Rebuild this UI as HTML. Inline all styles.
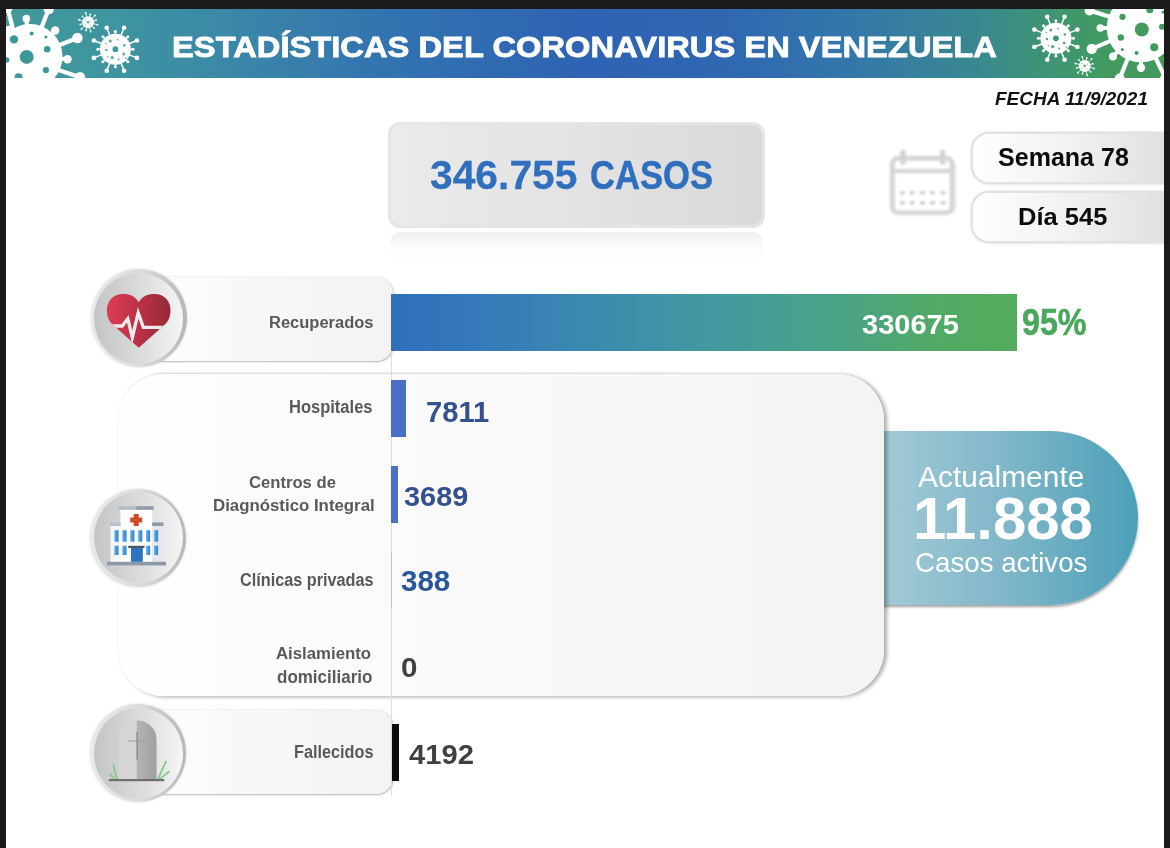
<!DOCTYPE html>
<html lang="es">
<head>
<meta charset="utf-8">
<title>Estadísticas del Coronavirus en Venezuela</title>
<style>
html,body{margin:0;padding:0;}
body{width:1170px;height:848px;overflow:hidden;background:#fff;font-family:"Liberation Sans",sans-serif;position:relative;}
.abs{position:absolute;}
.t{position:absolute;white-space:nowrap;line-height:1;transform-origin:0 0;font-weight:bold;}
.frame{position:absolute;background:#1b191c;z-index:50;}
#band{left:6px;top:9px;width:1158px;height:69px;background:linear-gradient(90deg,#41999a 0%,#3e94a0 10%,#3a86a8 20%,#3273b0 33%,#2e63b3 50%,#2f67b1 62%,#3377aa 73%,#39888f 84%,#3f9670 91%,#429b5d 96%,#429b5d 100%);}
#hsvg{left:0;top:0;z-index:2;}
#casebox{left:388px;top:122px;width:377px;height:106px;border-radius:12px;background:#e5e5e6;}
#caseinner{left:391px;top:125px;width:371px;height:100px;border-radius:10px;background:linear-gradient(90deg,#ebebec 0%,#e3e3e4 50%,#d9d9da 100%);}
#refl{left:390px;top:232px;width:373px;height:30px;border-radius:10px 10px 0 0;background:linear-gradient(180deg,rgba(225,225,226,.55) 0%,rgba(240,240,240,.25) 45%,rgba(255,255,255,0) 100%);}
.pill{position:absolute;left:972.8px;width:200px;height:47.5px;border-radius:16px 0 0 16px;background:linear-gradient(90deg,#fefefe 0%,#f4f4f4 40%,#dfdfdf 100%);box-shadow:0 0 0 2.5px #e2e2e2, 0 1px 4px 1px rgba(0,0,0,.10);}
.lbl{position:absolute;left:135px;width:258px;height:84px;border-radius:0 17px 17px 0;background:linear-gradient(90deg,#ffffff 0%,#f8f8f8 40%,#f3f3f3 100%);box-shadow:0.5px 1px 2px rgba(0,0,0,.26),0 0 1.5px rgba(0,0,0,.22);}
.circ{position:absolute;width:96px;height:98px;border-radius:50%;background:linear-gradient(90deg,#e9e9e9 0%,#dddddd 50%,#b6b6b8 100%);box-shadow:0 0 3px rgba(0,0,0,.14);}
.circ i{position:absolute;left:3.5px;top:3.5px;width:89px;height:91px;border-radius:50%;background:linear-gradient(90deg,#c3c4c6 0%,#dadadb 50%,#f5f5f5 100%);}
#panel{left:118px;top:374px;width:766px;height:322px;border-radius:46px;background:linear-gradient(90deg,#fefefe 0%,#fbfbfb 30%,#f4f4f5 100%);box-shadow:3px 1px 4px rgba(0,0,0,.33),0 -0.5px 2px rgba(0,0,0,.07);}
#axis{left:391px;top:351px;width:1px;height:445px;background:#dcdcdc;}
#active{left:880px;top:431px;width:258px;height:174px;border-radius:0 87px 87px 0;background:linear-gradient(90deg,#a3cad7 0%,#9cc6d4 10%,#7fb6c8 50%,#4ba0b9 100%);box-shadow:0 2px 3px rgba(0,0,0,.38);}
.bar{position:absolute;}
.lab{color:#595959;}
.icon{position:absolute;left:0;top:0;}
</style>
</head>
<body>
<div id="band" class="abs"></div>
<svg id="hsvg" class="abs" width="1170" height="848" viewBox="0 0 1170 848">
<defs><clipPath id="bc"><rect x="6" y="9" width="1158" height="69"/></clipPath></defs>
<g clip-path="url(#bc)">
<circle cx="30" cy="56.5" r="32.5" fill="#fff"/>
<line x1="13.40" y1="31.00" x2="7.60" y2="8.00" stroke="#fff" stroke-width="4.2"/>
<circle cx="7.60" cy="8.00" r="5.0" fill="#fff"/>
<line x1="41.23" y1="28.14" x2="48.77" y2="9.08" stroke="#fff" stroke-width="4.2"/>
<circle cx="48.77" cy="9.08" r="5.2" fill="#fff"/>
<line x1="58.42" y1="45.42" x2="77.42" y2="38.01" stroke="#fff" stroke-width="4.2"/>
<circle cx="77.42" cy="38.01" r="5.3" fill="#fff"/>
<line x1="57.00" y1="69.50" x2="80.00" y2="77.30" stroke="#fff" stroke-width="4.2"/>
<circle cx="80.00" cy="77.30" r="5.2" fill="#fff"/>
<line x1="27.08" y1="26.14" x2="26.36" y2="18.67" stroke="#fff" stroke-width="4"/>
<circle cx="26.36" cy="18.67" r="3.8" fill="#fff"/>
<line x1="51.23" y1="34.60" x2="55.19" y2="30.50" stroke="#fff" stroke-width="4"/>
<circle cx="55.19" cy="30.50" r="4.2" fill="#fff"/>
<line x1="60.42" y1="58.68" x2="67.50" y2="59.19" stroke="#fff" stroke-width="4"/>
<circle cx="67.50" cy="59.19" r="4.2" fill="#fff"/>
<circle cx="14" cy="39.4" r="4.2" fill="#3f9898"/>
<circle cx="31.6" cy="33.5" r="2" fill="#3f9898"/>
<circle cx="45.9" cy="37.1" r="1.5" fill="#3f9898"/>
<circle cx="47.2" cy="49.2" r="3.3" fill="#3f9898"/>
<circle cx="26.7" cy="56.9" r="7" fill="#3f9898"/>
<circle cx="45.9" cy="70.1" r="3.1" fill="#3f9898"/>
<circle cx="18.6" cy="77.2" r="4" fill="#3f9898"/>
<circle cx="6.8" cy="59.9" r="2.6" fill="#3f9898"/>
<path d="M6 26.5 L9.5 25.5 L11.5 28.5 L9.4 35 L6 38 Z" fill="#fff"/>
<circle cx="88.2" cy="22.3" r="6" fill="#fff"/>
<line x1="93.03" y1="23.59" x2="97.47" y2="24.78" stroke="#fff" stroke-width="0.9" stroke-opacity=".9"/>
<circle cx="97.47" cy="24.78" r="1.0" fill="#fff" fill-opacity=".9"/>
<line x1="91.74" y1="25.84" x2="94.00" y2="28.10" stroke="#fff" stroke-width="0.9" stroke-opacity=".9"/>
<circle cx="94.00" cy="28.10" r="1.0" fill="#fff" fill-opacity=".9"/>
<line x1="89.49" y1="27.13" x2="90.68" y2="31.57" stroke="#fff" stroke-width="0.9" stroke-opacity=".9"/>
<circle cx="90.68" cy="31.57" r="1.0" fill="#fff" fill-opacity=".9"/>
<line x1="86.91" y1="27.13" x2="86.08" y2="30.22" stroke="#fff" stroke-width="0.9" stroke-opacity=".9"/>
<circle cx="86.08" cy="30.22" r="1.0" fill="#fff" fill-opacity=".9"/>
<line x1="84.66" y1="25.84" x2="81.41" y2="29.09" stroke="#fff" stroke-width="0.9" stroke-opacity=".9"/>
<circle cx="81.41" cy="29.09" r="1.0" fill="#fff" fill-opacity=".9"/>
<line x1="83.37" y1="23.59" x2="80.28" y2="24.42" stroke="#fff" stroke-width="0.9" stroke-opacity=".9"/>
<circle cx="80.28" cy="24.42" r="1.0" fill="#fff" fill-opacity=".9"/>
<line x1="83.37" y1="21.01" x2="78.93" y2="19.82" stroke="#fff" stroke-width="0.9" stroke-opacity=".9"/>
<circle cx="78.93" cy="19.82" r="1.0" fill="#fff" fill-opacity=".9"/>
<line x1="84.66" y1="18.76" x2="82.40" y2="16.50" stroke="#fff" stroke-width="0.9" stroke-opacity=".9"/>
<circle cx="82.40" cy="16.50" r="1.0" fill="#fff" fill-opacity=".9"/>
<line x1="86.91" y1="17.47" x2="85.72" y2="13.03" stroke="#fff" stroke-width="0.9" stroke-opacity=".9"/>
<circle cx="85.72" cy="13.03" r="1.0" fill="#fff" fill-opacity=".9"/>
<line x1="89.49" y1="17.47" x2="90.32" y2="14.38" stroke="#fff" stroke-width="0.9" stroke-opacity=".9"/>
<circle cx="90.32" cy="14.38" r="1.0" fill="#fff" fill-opacity=".9"/>
<line x1="91.74" y1="18.76" x2="94.99" y2="15.51" stroke="#fff" stroke-width="0.9" stroke-opacity=".9"/>
<circle cx="94.99" cy="15.51" r="1.0" fill="#fff" fill-opacity=".9"/>
<line x1="93.03" y1="21.01" x2="96.12" y2="20.18" stroke="#fff" stroke-width="0.9" stroke-opacity=".9"/>
<circle cx="96.12" cy="20.18" r="1.0" fill="#fff" fill-opacity=".9"/>
<circle cx="88.2" cy="22.3" r="1.3" fill="#3f9898" fill-opacity=".8"/>
<circle cx="85.60" cy="20.10" r=".6" fill="#3f9898" fill-opacity=".6"/>
<circle cx="91.00" cy="20.50" r=".6" fill="#3f9898" fill-opacity=".6"/>
<circle cx="90.20" cy="25.30" r=".6" fill="#3f9898" fill-opacity=".6"/>
<circle cx="85.60" cy="24.90" r=".6" fill="#3f9898" fill-opacity=".6"/>
<circle cx="115.4" cy="49.2" r="15.5" fill="#fff"/>
<line x1="128.84" y1="43.77" x2="136.91" y2="40.51" stroke="#fff" stroke-width="1.5"/>
<circle cx="136.91" cy="40.51" r="2.3" fill="#fff"/>
<line x1="128.84" y1="54.63" x2="136.91" y2="57.89" stroke="#fff" stroke-width="1.5"/>
<circle cx="136.91" cy="57.89" r="2.3" fill="#fff"/>
<line x1="120.83" y1="35.76" x2="124.09" y2="27.69" stroke="#fff" stroke-width="1.5"/>
<circle cx="124.09" cy="27.69" r="2.3" fill="#fff"/>
<line x1="120.83" y1="62.64" x2="124.09" y2="70.71" stroke="#fff" stroke-width="1.5"/>
<circle cx="124.09" cy="70.71" r="2.3" fill="#fff"/>
<line x1="109.97" y1="35.76" x2="106.71" y2="27.69" stroke="#fff" stroke-width="1.5"/>
<circle cx="106.71" cy="27.69" r="2.3" fill="#fff"/>
<line x1="109.97" y1="62.64" x2="106.71" y2="70.71" stroke="#fff" stroke-width="1.5"/>
<circle cx="106.71" cy="70.71" r="2.3" fill="#fff"/>
<line x1="101.96" y1="43.77" x2="93.89" y2="40.51" stroke="#fff" stroke-width="1.5"/>
<circle cx="93.89" cy="40.51" r="2.3" fill="#fff"/>
<line x1="101.96" y1="54.63" x2="93.89" y2="57.89" stroke="#fff" stroke-width="1.5"/>
<circle cx="93.89" cy="57.89" r="2.3" fill="#fff"/>
<line x1="129.90" y1="49.20" x2="133.00" y2="49.20" stroke="#fff" stroke-width="1.6"/>
<circle cx="133.00" cy="49.20" r="1.5" fill="#fff"/>
<line x1="125.65" y1="59.45" x2="127.85" y2="61.65" stroke="#fff" stroke-width="1.6"/>
<circle cx="127.85" cy="61.65" r="1.5" fill="#fff"/>
<line x1="115.40" y1="63.70" x2="115.40" y2="66.80" stroke="#fff" stroke-width="1.6"/>
<circle cx="115.40" cy="66.80" r="1.5" fill="#fff"/>
<line x1="105.15" y1="59.45" x2="102.95" y2="61.65" stroke="#fff" stroke-width="1.6"/>
<circle cx="102.95" cy="61.65" r="1.5" fill="#fff"/>
<line x1="100.90" y1="49.20" x2="97.80" y2="49.20" stroke="#fff" stroke-width="1.6"/>
<circle cx="97.80" cy="49.20" r="1.5" fill="#fff"/>
<line x1="105.15" y1="38.95" x2="102.95" y2="36.75" stroke="#fff" stroke-width="1.6"/>
<circle cx="102.95" cy="36.75" r="1.5" fill="#fff"/>
<line x1="115.40" y1="34.70" x2="115.40" y2="31.60" stroke="#fff" stroke-width="1.6"/>
<circle cx="115.40" cy="31.60" r="1.5" fill="#fff"/>
<line x1="125.65" y1="38.95" x2="127.85" y2="36.75" stroke="#fff" stroke-width="1.6"/>
<circle cx="127.85" cy="36.75" r="1.5" fill="#fff"/>
<circle cx="115.4" cy="49.2" r="2.9" fill="#3f9898"/>
<circle cx="110.30" cy="41.00" r="1.5" fill="#3f9898" fill-opacity=".85"/>
<circle cx="124.40" cy="45.40" r="1.3" fill="#3f9898" fill-opacity=".85"/>
<circle cx="123.70" cy="54.00" r="1.4" fill="#3f9898" fill-opacity=".85"/>
<circle cx="112.20" cy="57.60" r="1.6" fill="#3f9898" fill-opacity=".85"/>
<circle cx="106.40" cy="49.90" r="1.2" fill="#3f9898" fill-opacity=".85"/>
<circle cx="118.60" cy="59.50" r="1.0" fill="#3f9898" fill-opacity=".85"/>
<circle cx="117.60" cy="39.60" r="0.9" fill="#3f9898" fill-opacity=".85"/>
<circle cx="105.90" cy="43.70" r="0.8" fill="#3f9898" fill-opacity=".85"/>
<circle cx="125.90" cy="58.20" r="0.8" fill="#3f9898" fill-opacity=".85"/>
<circle cx="107.90" cy="56.70" r="0.8" fill="#3f9898" fill-opacity=".85"/>
<circle cx="1055.9" cy="38.3" r="15.5" fill="#fff"/>
<line x1="1069.34" y1="32.87" x2="1077.41" y2="29.61" stroke="#fff" stroke-width="1.5"/>
<circle cx="1077.41" cy="29.61" r="2.3" fill="#fff"/>
<line x1="1069.34" y1="43.73" x2="1077.41" y2="46.99" stroke="#fff" stroke-width="1.5"/>
<circle cx="1077.41" cy="46.99" r="2.3" fill="#fff"/>
<line x1="1061.33" y1="24.86" x2="1064.59" y2="16.79" stroke="#fff" stroke-width="1.5"/>
<circle cx="1064.59" cy="16.79" r="2.3" fill="#fff"/>
<line x1="1061.33" y1="51.74" x2="1064.59" y2="59.81" stroke="#fff" stroke-width="1.5"/>
<circle cx="1064.59" cy="59.81" r="2.3" fill="#fff"/>
<line x1="1050.47" y1="24.86" x2="1047.21" y2="16.79" stroke="#fff" stroke-width="1.5"/>
<circle cx="1047.21" cy="16.79" r="2.3" fill="#fff"/>
<line x1="1050.47" y1="51.74" x2="1047.21" y2="59.81" stroke="#fff" stroke-width="1.5"/>
<circle cx="1047.21" cy="59.81" r="2.3" fill="#fff"/>
<line x1="1042.46" y1="32.87" x2="1034.39" y2="29.61" stroke="#fff" stroke-width="1.5"/>
<circle cx="1034.39" cy="29.61" r="2.3" fill="#fff"/>
<line x1="1042.46" y1="43.73" x2="1034.39" y2="46.99" stroke="#fff" stroke-width="1.5"/>
<circle cx="1034.39" cy="46.99" r="2.3" fill="#fff"/>
<line x1="1070.40" y1="38.30" x2="1073.50" y2="38.30" stroke="#fff" stroke-width="1.6"/>
<circle cx="1073.50" cy="38.30" r="1.5" fill="#fff"/>
<line x1="1066.15" y1="48.55" x2="1068.35" y2="50.75" stroke="#fff" stroke-width="1.6"/>
<circle cx="1068.35" cy="50.75" r="1.5" fill="#fff"/>
<line x1="1055.90" y1="52.80" x2="1055.90" y2="55.90" stroke="#fff" stroke-width="1.6"/>
<circle cx="1055.90" cy="55.90" r="1.5" fill="#fff"/>
<line x1="1045.65" y1="48.55" x2="1043.45" y2="50.75" stroke="#fff" stroke-width="1.6"/>
<circle cx="1043.45" cy="50.75" r="1.5" fill="#fff"/>
<line x1="1041.40" y1="38.30" x2="1038.30" y2="38.30" stroke="#fff" stroke-width="1.6"/>
<circle cx="1038.30" cy="38.30" r="1.5" fill="#fff"/>
<line x1="1045.65" y1="28.05" x2="1043.45" y2="25.85" stroke="#fff" stroke-width="1.6"/>
<circle cx="1043.45" cy="25.85" r="1.5" fill="#fff"/>
<line x1="1055.90" y1="23.80" x2="1055.90" y2="20.70" stroke="#fff" stroke-width="1.6"/>
<circle cx="1055.90" cy="20.70" r="1.5" fill="#fff"/>
<line x1="1066.15" y1="28.05" x2="1068.35" y2="25.85" stroke="#fff" stroke-width="1.6"/>
<circle cx="1068.35" cy="25.85" r="1.5" fill="#fff"/>
<circle cx="1055.9" cy="38.3" r="2.9" fill="#3d9180"/>
<circle cx="1050.80" cy="30.10" r="1.5" fill="#3d9180" fill-opacity=".85"/>
<circle cx="1064.90" cy="34.50" r="1.3" fill="#3d9180" fill-opacity=".85"/>
<circle cx="1064.20" cy="43.10" r="1.4" fill="#3d9180" fill-opacity=".85"/>
<circle cx="1052.70" cy="46.70" r="1.6" fill="#3d9180" fill-opacity=".85"/>
<circle cx="1046.90" cy="39.00" r="1.2" fill="#3d9180" fill-opacity=".85"/>
<circle cx="1059.10" cy="48.60" r="1.0" fill="#3d9180" fill-opacity=".85"/>
<circle cx="1058.10" cy="28.70" r="0.9" fill="#3d9180" fill-opacity=".85"/>
<circle cx="1046.40" cy="32.80" r="0.8" fill="#3d9180" fill-opacity=".85"/>
<circle cx="1066.40" cy="47.30" r="0.8" fill="#3d9180" fill-opacity=".85"/>
<circle cx="1048.40" cy="45.80" r="0.8" fill="#3d9180" fill-opacity=".85"/>
<circle cx="1084.7" cy="65.9" r="6" fill="#fff"/>
<line x1="1089.53" y1="67.19" x2="1093.97" y2="68.38" stroke="#fff" stroke-width="0.9" stroke-opacity=".9"/>
<circle cx="1093.97" cy="68.38" r="1.0" fill="#fff" fill-opacity=".9"/>
<line x1="1088.24" y1="69.44" x2="1090.50" y2="71.70" stroke="#fff" stroke-width="0.9" stroke-opacity=".9"/>
<circle cx="1090.50" cy="71.70" r="1.0" fill="#fff" fill-opacity=".9"/>
<line x1="1085.99" y1="70.73" x2="1087.18" y2="75.17" stroke="#fff" stroke-width="0.9" stroke-opacity=".9"/>
<circle cx="1087.18" cy="75.17" r="1.0" fill="#fff" fill-opacity=".9"/>
<line x1="1083.41" y1="70.73" x2="1082.58" y2="73.82" stroke="#fff" stroke-width="0.9" stroke-opacity=".9"/>
<circle cx="1082.58" cy="73.82" r="1.0" fill="#fff" fill-opacity=".9"/>
<line x1="1081.16" y1="69.44" x2="1077.91" y2="72.69" stroke="#fff" stroke-width="0.9" stroke-opacity=".9"/>
<circle cx="1077.91" cy="72.69" r="1.0" fill="#fff" fill-opacity=".9"/>
<line x1="1079.87" y1="67.19" x2="1076.78" y2="68.02" stroke="#fff" stroke-width="0.9" stroke-opacity=".9"/>
<circle cx="1076.78" cy="68.02" r="1.0" fill="#fff" fill-opacity=".9"/>
<line x1="1079.87" y1="64.61" x2="1075.43" y2="63.42" stroke="#fff" stroke-width="0.9" stroke-opacity=".9"/>
<circle cx="1075.43" cy="63.42" r="1.0" fill="#fff" fill-opacity=".9"/>
<line x1="1081.16" y1="62.36" x2="1078.90" y2="60.10" stroke="#fff" stroke-width="0.9" stroke-opacity=".9"/>
<circle cx="1078.90" cy="60.10" r="1.0" fill="#fff" fill-opacity=".9"/>
<line x1="1083.41" y1="61.07" x2="1082.22" y2="56.63" stroke="#fff" stroke-width="0.9" stroke-opacity=".9"/>
<circle cx="1082.22" cy="56.63" r="1.0" fill="#fff" fill-opacity=".9"/>
<line x1="1085.99" y1="61.07" x2="1086.82" y2="57.98" stroke="#fff" stroke-width="0.9" stroke-opacity=".9"/>
<circle cx="1086.82" cy="57.98" r="1.0" fill="#fff" fill-opacity=".9"/>
<line x1="1088.24" y1="62.36" x2="1091.49" y2="59.11" stroke="#fff" stroke-width="0.9" stroke-opacity=".9"/>
<circle cx="1091.49" cy="59.11" r="1.0" fill="#fff" fill-opacity=".9"/>
<line x1="1089.53" y1="64.61" x2="1092.62" y2="63.78" stroke="#fff" stroke-width="0.9" stroke-opacity=".9"/>
<circle cx="1092.62" cy="63.78" r="1.0" fill="#fff" fill-opacity=".9"/>
<circle cx="1084.7" cy="65.9" r="1.3" fill="#419a5e" fill-opacity=".8"/>
<circle cx="1082.10" cy="63.70" r=".6" fill="#419a5e" fill-opacity=".6"/>
<circle cx="1087.50" cy="64.10" r=".6" fill="#419a5e" fill-opacity=".6"/>
<circle cx="1086.70" cy="68.90" r=".6" fill="#419a5e" fill-opacity=".6"/>
<circle cx="1082.10" cy="68.50" r=".6" fill="#419a5e" fill-opacity=".6"/>
<circle cx="1141" cy="28" r="34.3" fill="#fff"/>
<line x1="1112.00" y1="17.50" x2="1089.60" y2="10.40" stroke="#fff" stroke-width="4.2"/>
<circle cx="1089.60" cy="10.40" r="5.0" fill="#fff"/>
<line x1="1111.27" y1="40.62" x2="1091.75" y2="48.90" stroke="#fff" stroke-width="4.2"/>
<circle cx="1091.75" cy="48.90" r="5.2" fill="#fff"/>
<line x1="1128.00" y1="58.00" x2="1119.70" y2="78.60" stroke="#fff" stroke-width="4.2"/>
<circle cx="1119.70" cy="78.60" r="5.0" fill="#fff"/>
<line x1="1155.16" y1="57.03" x2="1165.55" y2="78.33" stroke="#fff" stroke-width="4.2"/>
<circle cx="1165.55" cy="78.33" r="5.5" fill="#fff"/>
<line x1="1108.70" y1="28.00" x2="1100.30" y2="28.00" stroke="#fff" stroke-width="4"/>
<circle cx="1100.30" cy="28.00" r="3.8" fill="#fff"/>
<line x1="1118.32" y1="51.00" x2="1112.98" y2="56.41" stroke="#fff" stroke-width="4"/>
<circle cx="1112.98" cy="56.41" r="4" fill="#fff"/>
<line x1="1141.00" y1="60.30" x2="1141.00" y2="67.70" stroke="#fff" stroke-width="4"/>
<circle cx="1141.00" cy="67.70" r="4.2" fill="#fff"/>
<circle cx="1122.5" cy="16.8" r="3.1" fill="#419a5e"/>
<circle cx="1141.8" cy="29.5" r="7" fill="#419a5e"/>
<circle cx="1120.8" cy="37.5" r="3.2" fill="#419a5e"/>
<circle cx="1154.2" cy="47.2" r="4" fill="#419a5e"/>
<circle cx="1122.3" cy="49.5" r="1.5" fill="#419a5e"/>
<circle cx="1136.6" cy="53.1" r="2" fill="#419a5e"/>
<circle cx="1162" cy="26.7" r="3" fill="#419a5e"/>
<circle cx="1149.8" cy="9.7" r="3.5" fill="#419a5e"/>
<circle cx="1163" cy="12" r="1.5" fill="#419a5e"/>
</g>
</svg>
<div class="t" id="title" style="left:172.41px;top:32.05px;font-size:29.71px;transform:scaleX(1.101);color:#fff;z-index:3;-webkit-text-stroke:0.8px #fff;">ESTADÍSTICAS DEL CORONAVIRUS EN VENEZUELA</div>
<div class="t" id="fecha" style="left:995.41px;top:88.8px;font-size:19.14px;transform:scaleX(0.9923);font-style:italic;color:#111;">FECHA 11/9/2021</div>

<div id="casebox" class="abs"></div>
<div id="caseinner" class="abs"></div>
<div id="refl" class="abs"></div>
<div class="t" id="c1" style="left:429.65px;top:153.93px;font-size:41.43px;transform:scaleX(0.9848);color:#2f6fbd;-webkit-text-stroke:0.3px #2f6fbd;">346.755</div>
<div class="t" id="c2" style="left:589.87px;top:153.72px;font-size:41.43px;transform:scaleX(0.8346);color:#2f6fbd;-webkit-text-stroke:0.5px #2f6fbd;">CASOS</div>

<!-- calendar -->
<svg class="icon" width="1170" height="848" viewBox="0 0 1170 848" style="filter:blur(1.1px);">
<rect x="895" y="159" width="61.5" height="55" rx="7" fill="#e9e9e9" opacity=".8"/>
<rect x="892.3" y="158.2" width="59.8" height="54.6" rx="6" fill="#fff" stroke="#d6d6d6" stroke-width="5"/>
<line x1="892" y1="171" x2="952" y2="171" stroke="#d6d6d6" stroke-width="4.6"/>
<line x1="903" y1="152.5" x2="903" y2="162" stroke="#d3d3d3" stroke-width="5.6" stroke-linecap="round"/>
<line x1="942.7" y1="152.5" x2="942.7" y2="162" stroke="#d3d3d3" stroke-width="5.6" stroke-linecap="round"/>
<g fill="#d2d2d2">
<rect x="900" y="191" width="5" height="3.6"/><rect x="909.5" y="191" width="5" height="3.6"/><rect x="920" y="191" width="5" height="3.6"/><rect x="930" y="191" width="5" height="3.6"/><rect x="940.5" y="191" width="5" height="3.6"/>
<rect x="900" y="201" width="5" height="3.6"/><rect x="909.5" y="201" width="5" height="3.6"/><rect x="920" y="201" width="5" height="3.6"/><rect x="930" y="201" width="5" height="3.6"/><rect x="940.5" y="201" width="5" height="3.6"/>
</g>
</svg>

<div class="pill" style="top:134.3px;"></div>
<div class="pill" style="top:193px;"></div>
<div class="t" id="semana" style="left:997.81px;top:143.87px;font-size:26.14px;transform:scaleX(0.9585);color:#0c0c0c;">Semana 78</div>
<div class="t" id="dia" style="left:1018.34px;top:205.0px;font-size:24.57px;transform:scaleX(1.0385);color:#0c0c0c;">Día 545</div>

<div id="active" class="abs"></div>
<div class="t" id="a1" style="left:918.2px;top:462.71px;font-size:28.7px;transform:scaleX(1.0433);color:#fff;font-weight:normal;">Actualmente</div>
<div class="t" id="a2" style="left:912.72px;top:488.81px;font-size:59.29px;transform:scaleX(1.0094);color:#fff;">11.888</div>
<div class="t" id="a3" style="left:915.24px;top:547.83px;font-size:28.55px;transform:scaleX(0.9701);color:#fff;font-weight:normal;">Casos activos</div>
<div id="panel" class="abs"></div>

<div class="lbl" style="top:277px;"></div>
<div class="circ" style="left:90.5px;top:269px;"><i></i></div>
<div class="bar" style="left:391.2px;top:293.8px;width:625.8px;height:57.3px;background:linear-gradient(90deg,#2f6fbd 0%,#3479ba 14%,#3b88b1 30%,#4397a1 50%,#4aa288 70%,#51aa64 88%,#53ac5b 100%);"></div>
<div class="t" id="rec" style="left:862.22px;top:310.86px;font-size:27.57px;transform:scaleX(1.0528);color:#fff;">330675</div>
<div class="t" id="pct" style="left:1021.84px;top:304.61px;font-size:36.14px;transform:scaleX(0.8924);color:#4aa75c;-webkit-text-stroke:0.6px #4aa75c;">95%</div>
<div class="t" id="l1" style="left:269.02px;top:313.89px;font-size:17.14px;transform:scaleX(0.9632);color:#595959;">Recuperados</div>

<div class="lbl" style="top:710px;"></div>
<div class="circ" style="left:90.3px;top:704.4px;"><i></i></div>
<div class="bar" style="left:391.2px;top:723.8px;width:7.8px;height:57.7px;background:#0d0d0d;"></div>

<div class="circ" style="left:90.3px;top:488.7px;"><i></i></div>
<div id="axis" class="abs"></div>

<div class="bar" style="left:391.2px;top:379.6px;width:14.8px;height:57.4px;background:#4a6fc4;"></div>
<div class="bar" style="left:391.2px;top:465.7px;width:6.6px;height:57.5px;background:#4a6fc4;"></div>
<div class="bar" style="left:391px;top:552px;width:1px;height:56px;background:#b9c4e2;"></div>

<div class="t" id="l2" style="left:289.02px;top:398.93px;font-size:17.57px;transform:scaleX(0.9401);color:#595959;">Hospitales</div>
<div class="t" id="v2" style="left:425.93px;top:396.81px;font-size:29.29px;transform:scaleX(0.9952);color:#34508f;">7811</div>
<div class="t" id="l3a" style="left:249.4px;top:474.21px;font-size:17.0px;transform:scaleX(0.9785);color:#595959;">Centros de</div>
<div class="t" id="l3b" style="left:212.6px;top:496.97px;font-size:17.29px;transform:scaleX(0.9734);color:#595959;">Diagnóstico Integral</div>
<div class="t" id="v3" style="left:404.42px;top:482.06px;font-size:28.29px;transform:scaleX(1.0213);color:#34508f;">3689</div>
<div class="t" id="l4" style="left:240.28px;top:571.53px;font-size:17.57px;transform:scaleX(0.9248);color:#595959;">Clínicas privadas</div>
<div class="t" id="v4" style="left:400.61px;top:566.97px;font-size:28.86px;transform:scaleX(1.0236);color:#27569a;">388</div>
<div class="t" id="l5a" style="left:276.43px;top:645.49px;font-size:17.14px;transform:scaleX(0.98);color:#595959;">Aislamiento</div>
<div class="t" id="l5b" style="left:277.18px;top:669.33px;font-size:17.57px;transform:scaleX(0.9673);color:#595959;">domiciliario</div>
<div class="t" id="v5" style="left:400.7px;top:653.98px;font-size:27.43px;transform:scaleX(1.0791);color:#404040;">0</div>
<div class="t" id="l6" style="left:293.88px;top:744.25px;font-size:17.43px;transform:scaleX(0.9324);color:#595959;">Fallecidos</div>
<div class="t" id="v6" style="left:408.51px;top:739.74px;font-size:28.43px;transform:scaleX(1.0255);color:#404040;">4192</div>

<!-- icons -->
<svg class="icon" width="1170" height="848" viewBox="0 0 1170 848">
<defs>
<linearGradient id="hg" x1="0" x2="1" y1="0" y2="0"><stop offset="0" stop-color="#dc3c54"/><stop offset=".45" stop-color="#bf3247"/><stop offset="1" stop-color="#962a37"/></linearGradient>
<linearGradient id="tg" x1="0" x2="1" y1="0" y2="0"><stop offset="0" stop-color="#b4b4b5"/><stop offset="1" stop-color="#a0a0a1"/></linearGradient>
</defs>
<!-- heart -->
<clipPath id="hc"><path d="M138.7 302.5 C136 296.5 130 294 123 294 C113 294 106.9 301 106.9 310 C106.9 316 108.5 320.5 112.5 324.5 L138.7 347.7 L164.9 324.5 C169 320.5 170.5 316 170.5 310 C170.5 301 164.5 294 154.5 294 C147.5 294 141.5 296.5 138.7 302.5 Z"/></clipPath>
<path d="M138.7 302.5 C136 296.5 130 294 123 294 C113 294 106.9 301 106.9 310 C106.9 316 108.5 320.5 112.5 324.5 L138.7 347.7 L164.9 324.5 C169 320.5 170.5 316 170.5 310 C170.5 301 164.5 294 154.5 294 C147.5 294 141.5 296.5 138.7 302.5 Z" fill="url(#hg)"/>
<path d="M104 326 L122.2 326 L127.8 318.8 L132.3 337.5 L138.2 312.8 L143.3 327.3 L174 327.3" fill="none" stroke="#ececec" stroke-width="3.3" stroke-linejoin="miter" stroke-miterlimit="6" clip-path="url(#hc)"/>

<!-- hospital -->
<g>
<rect x="110.5" y="526" width="10.5" height="36" fill="#f4f6f8"/>
<rect x="152" y="526" width="10.6" height="36" fill="#e3e7eb"/>
<rect x="120.4" y="509.7" width="31.8" height="52.3" fill="#fdfdfd"/>
<rect x="118.7" y="506.2" width="17.5" height="3.6" fill="#b3bdc8"/>
<rect x="136.2" y="506.2" width="17.5" height="3.6" fill="#8f9ba7"/>
<rect x="110" y="522.4" width="10.6" height="3.6" fill="#b9c2cc"/>
<rect x="152.2" y="522.4" width="11.3" height="3.6" fill="#8f9ba7"/>
<rect x="107" y="561.8" width="59" height="3.6" fill="#8c98a4"/>
<rect x="133.7" y="514" width="5" height="12" fill="#d04a2a"/>
<rect x="130.2" y="517.5" width="12" height="5" fill="#d04a2a"/>
<g>
<rect x="114.4" y="530.3" width="4" height="11.3" fill="#58a5e2"/><rect x="116.4" y="530.3" width="2" height="11.3" fill="#3d8dd2"/>
<rect x="122.4" y="530.3" width="4" height="11.3" fill="#58a5e2"/><rect x="124.4" y="530.3" width="2" height="11.3" fill="#3d8dd2"/>
<rect x="130.3" y="530.3" width="4" height="11.3" fill="#58a5e2"/><rect x="132.3" y="530.3" width="2" height="11.3" fill="#3d8dd2"/>
<rect x="138.2" y="530.3" width="4" height="11.3" fill="#58a5e2"/><rect x="140.2" y="530.3" width="2" height="11.3" fill="#3d8dd2"/>
<rect x="146.1" y="530.3" width="4" height="11.3" fill="#58a5e2"/><rect x="148.1" y="530.3" width="2" height="11.3" fill="#3d8dd2"/>
<rect x="154.1" y="530.3" width="4" height="11.3" fill="#58a5e2"/><rect x="156.1" y="530.3" width="2" height="11.3" fill="#3d8dd2"/>
<rect x="114.4" y="545.8" width="4" height="9.2" fill="#58a5e2"/><rect x="116.4" y="545.8" width="2" height="9.2" fill="#3d8dd2"/>
<rect x="122.4" y="545.8" width="4" height="9.2" fill="#58a5e2"/><rect x="124.4" y="545.8" width="2" height="9.2" fill="#3d8dd2"/>
<rect x="146.1" y="545.8" width="4" height="9.2" fill="#58a5e2"/><rect x="148.1" y="545.8" width="2" height="9.2" fill="#3d8dd2"/>
<rect x="154.1" y="545.8" width="4" height="9.2" fill="#58a5e2"/><rect x="156.1" y="545.8" width="2" height="9.2" fill="#3d8dd2"/>
</g>
<rect x="131" y="547.5" width="11.8" height="14.3" fill="#2f72c0"/>
<rect x="128.2" y="545.8" width="16.3" height="2.2" fill="#4b5762"/>
</g>

<!-- tombstone -->
<g>
<path d="M119 779.2 L119 739.2 A18.75 18.75 0 0 1 136.7 720.6 L136.7 779.2 Z" fill="#d6d6d7" opacity=".95"/>
<path d="M136.7 779.2 L136.7 720.6 A18.75 18.75 0 0 1 156.5 739.2 L156.5 779.2 Z" fill="url(#tg)"/>
<line x1="137.1" y1="731.8" x2="137.1" y2="759.4" stroke="#8a8a8a" stroke-width="1.4"/>
<line x1="128.2" y1="741" x2="146.2" y2="741" stroke="#9c9c9c" stroke-width="1"/>
<g stroke="#86ca8d" stroke-width="1.8" stroke-linecap="round" fill="none">
<line x1="116.9" y1="779" x2="113.3" y2="765"/><line x1="115" y1="779" x2="110" y2="774.5"/>
<line x1="157.9" y1="779" x2="166" y2="761.5"/><line x1="160" y1="779" x2="169" y2="771.5"/>
</g>
<rect x="108.8" y="779" width="55.5" height="2.2" fill="#6e6e6e"/>
</g>
</svg>

<div class="frame" style="left:0;top:0;width:1170px;height:9px;"></div>
<div class="frame" style="left:0;top:0;width:6px;height:848px;"></div>
<div class="frame" style="left:1164px;top:0;width:6px;height:848px;"></div>
</body>
</html>
